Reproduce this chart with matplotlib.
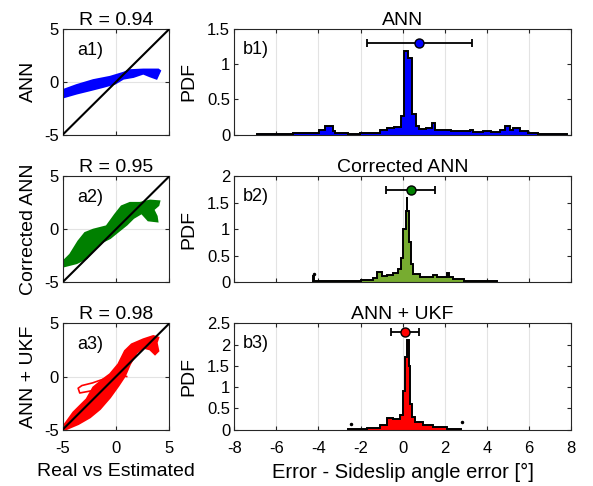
import numpy as np
import matplotlib
matplotlib.use("Agg")
import matplotlib.pyplot as plt

plt.rcParams['font.family'] = ['Liberation Sans', 'DejaVu Sans']
plt.rcParams['axes.unicode_minus'] = False

# ---- data ----
methods = ['ANN', 'Corrected ANN', 'ANN + UKF']
r_values = [0.94, 0.95, 0.98]
line_colors = ['#0000ff', '#008000', '#ff0000']
hist_colors = ['#0000ff', '#77ac30', '#ff0000']
marker_colors = ['#0000ff', '#008000', '#ff0000']

# real vs estimated clouds (outline traced along the band)
a1_x = [-5, -3.69, -2.13, -0.56, 0.69, 1.31, 2.56, 3.97, 4.13, 3.8, 3.19, 2.56, 1.63, 0.69, -0.09, -1.19, -2.44, -3.69, -5]
a1_y = [-0.79, -0.31, 0.16, 0.47, 0.85, 1.1, 1.16, 1.16, 1.04, 0.31, 0.53, 0.79, 0.47, 0.31, -0.16, -0.47, -0.79, -1.1, -1.48]

a2_x = [-5, -4.3, -3.53, -2.9, -2.13, -0.88, -0.09, 0.53, 1.31, 2.25, 3.19, 4.06, 3.97, 3.5, 3.81, 3.88,
        3.03, 2.41, 1.63, 1.0, 0.22, -0.56, -1.5, -2.13, -2.75, -3.69, -4.94]
a2_y = [-3.1, -2.4, -1.15, -0.36, -0.05, 0.27, 1.37, 2.16, 2.48, 2.48, 2.7, 2.63, 2.26, 1.85, 1.22, 0.74,
        0.84, 1.53, 1.06, 0.43, -0.2, -0.84, -1.31, -1.94, -2.73, -3.2, -3.52]
a2_loop_x = [-4.2, -3.6, -3.0, -2.7, -3.3, -4.0, -4.6]
a2_loop_y = [-2.6, -1.8, -1.2, -1.5, -2.3, -2.9, -3.0]

a3_x = [-5, -4, -2.75, -2.13, -1.19, -0.56, 0.22, 0.84, 1.47, 2.56, 3.5, 3.97, 3.81, 3.97, 3.66, 3.19,
        2.56, 1.94, 1.31, 0.84, 0.22, -0.56, -1.5, -2.44, -3.53, -4.63, -5]
a3_y = [-4.78, -3.38, -2.13, -1.03, -0.25, 0.22, 1.16, 2.41, 3.03, 3.5, 3.81, 3.66, 3.19, 2.41, 2.1, 2.56,
        2.72, 2.25, 1.16, 0.06, -0.88, -1.97, -3.06, -3.84, -4.47, -4.94, -5]
a3_loop_x = [-1.2, -2.2, -3.2, -3.55, -3.4, -2.6, -1.6]
a3_loop_y = [-0.25, -0.6, -0.85, -1.1, -1.55, -1.4, -1.2]
a3_hook_x = [-0.3, 0.3, 0.8, 1.0]
a3_hook_y = [0.1, 0.05, 0.05, 0.0]

# error histograms (PDF)
b1_edges = [-6.9, -6.3, -5.8, -5.2, -4.6, -4.25, -3.96, -3.69, -3.32, -3.21, -2.6, -2.02, -1.71, -1.4, -1.07,
            -0.76, -0.4, -0.09, 0.05, 0.24, 0.43, 0.62, 0.76, 1.1, 1.38, 1.56, 1.78, 2.3, 2.7, 3.2, 3.36,
            3.8, 4.2, 4.63, 4.87, 5.1, 5.26, 5.58, 5.98, 6.45, 7.0, 7.64, 7.8]
b1_pdf = [0.01, 0.015, 0.012, 0.018, 0.025, 0.03, 0.06, 0.13, 0.05, 0.02, 0.015, 0.025, 0.03, 0.025,
          0.06, 0.09, 0.11, 0.27, 1.19, 1.085, 0.29, 0.12, 0.08, 0.09, 0.16, 0.07, 0.06, 0.05, 0.055,
          0.07, 0.045, 0.055, 0.04, 0.06, 0.13, 0.07, 0.09, 0.05, 0.03, 0.015, 0.01, 0.005]

b2_edges = [-4.26, -4.22, -3.0, -2.0, -1.39, -1.23, -1.0, -0.76, -0.44, -0.2, -0.09, 0.0, 0.15, 0.2, 0.22,
            0.29, 0.38, 0.5, 0.83, 1.1, 1.46, 1.62, 2.1, 2.2, 2.4, 2.9, 3.6, 4.47]
b2_pdf = [0.12, 0.012, 0.02, 0.035, 0.07, 0.2, 0.11, 0.13, 0.17, 0.25, 0.45, 1.0, 1.35, 1.6, 1.35,
          0.75, 0.35, 0.15, 0.1, 0.09, 0.14, 0.1, 0.18, 0.1, 0.06, 0.03, 0.012]

b3_edges = [-2.58, -2.1, -1.71, -1.07, -0.76, -0.44, -0.12, 0.0, 0.11, 0.19, 0.29, 0.35, 0.43, 0.59, 0.98,
            1.46, 2.1, 2.5, 2.76]
b3_pdf = [0.015, 0.025, 0.05, 0.1, 0.27, 0.25, 0.35, 0.9, 1.7, 2.1, 1.5, 0.6, 0.3, 0.18, 0.12, 0.06, 0.025, 0.015]

# isolated points at the ends of the histograms
b2_dots_x, b2_dots_y = [-4.21], [0.145]
b3_dots_x, b3_dots_y = [-2.47, 2.82], [0.14, 0.17]

err_mean = [0.8, 0.38, 0.12]
err_std = [2.5, 1.17, 0.67]
err_level = [1.3, 1.75, 2.3]

ylims = [1.5, 2.0, 2.5]
yticks = [[0, 0.5, 1, 1.5], [0, 0.5, 1, 1.5, 2], [0, 0.5, 1, 1.5, 2, 2.5]]

clouds = [(a1_x, a1_y), (a2_x, a2_y), (a3_x, a3_y)]
hists = [(b1_edges, b1_pdf), (b2_edges, b2_pdf), (b3_edges, b3_pdf)]
dots = [([], []), (b2_dots_x, b2_dots_y), (b3_dots_x, b3_dots_y)]


def fmt(v):
    return ('%g' % v)


fig = plt.figure(figsize=(5.93, 4.86), dpi=100)
rows = [(0.7228, 0.2175), (0.4195, 0.2178), (0.1160, 0.2185)]
axcol = '#262626'

for i in range(3):
    bottom, height = rows[i]
    # ---- left: real vs estimated ----
    ax = fig.add_axes([0.1057, bottom, 0.1798, height])
    cx, cy = clouds[i]
    ax.fill(cx, cy, color=line_colors[i], lw=1.5, ec=line_colors[i], zorder=2)
    if i == 1:
        ax.plot(a2_loop_x, a2_loop_y, color=line_colors[i], lw=1.2, zorder=2)
    if i == 2:
        ax.plot(a3_loop_x, a3_loop_y, color=line_colors[i], lw=1.2, zorder=2)
        ax.plot(a3_hook_x, a3_hook_y, color=line_colors[i], lw=1.2, zorder=2)
    ax.plot([-5, 5], [-5, 5], color='k', lw=1.5, zorder=3)
    ax.set_xlim(-5, 5)
    ax.set_ylim(-5, 5)
    ax.set_xticks([-5, 0, 5])
    ax.set_yticks([-5, 0, 5])
    ax.set_yticklabels(['-5', '0', '5'])
    if i == 2:
        ax.set_xticklabels(['-5', '0', '5'])
        ax.set_xlabel('Real vs Estimated', fontsize=14, labelpad=5)
    else:
        ax.set_xticklabels([])
    ax.grid(True, color='#e3e3e3', lw=0.8)
    ax.set_axisbelow(True)
    ax.set_title('R = %.2f' % r_values[i], fontsize=14, pad=3)
    ax.set_ylabel(methods[i], fontsize=14, labelpad=5)
    ax.text(0.134, 0.80, 'a%d)' % (i + 1), transform=ax.transAxes, fontsize=13, va='center')
    ax.tick_params(direction='in', top=True, right=True, labelsize=12, length=3, color=axcol, pad=3)
    ax.tick_params(axis='x', pad=8)
    for s in ax.spines.values():
        s.set_color(axcol)

    # ---- right: error PDF ----
    bx = fig.add_axes([0.3951, bottom, 0.5678, height])
    edges, pdf = hists[i]
    bx.stairs(pdf, edges, fill=True, color=hist_colors[i], zorder=2)
    bx.stairs(pdf, edges, color='k', lw=1.4, zorder=3)
    dx, dy = dots[i]
    if dx:
        bx.plot(dx, dy, 'k.', ms=3, zorder=3)
    bx.errorbar(err_mean[i], err_level[i], xerr=err_std[i], fmt='o', color='k', lw=1.3,
                capsize=3, capthick=1.3, mfc=marker_colors[i], mec='k', ms=6.5, zorder=4)
    bx.set_xlim(-8, 8)
    bx.set_ylim(0, ylims[i])
    bx.set_xticks(np.arange(-8, 9, 2))
    bx.set_yticks(yticks[i])
    bx.set_yticklabels([fmt(v) for v in yticks[i]])
    if i == 2:
        bx.set_xticklabels([fmt(v) for v in np.arange(-8, 9, 2)])
        bx.set_xlabel('Error - Sideslip angle error [°]', fontsize=14.5, labelpad=5)
    else:
        bx.set_xticklabels([])
    bx.grid(True, axis='x', color='#e3e3e3', lw=0.8)
    bx.set_axisbelow(True)
    bx.set_title(methods[i], fontsize=14, pad=3)
    bx.set_ylabel('PDF', fontsize=14, labelpad=7)
    bx.text(0.025, 0.81, 'b%d)' % (i + 1), transform=bx.transAxes, fontsize=13, va='center')
    bx.tick_params(direction='in', top=True, right=True, labelsize=12, length=3, color=axcol, pad=3)
    bx.tick_params(axis='x', pad=8)
    for s in bx.spines.values():
        s.set_color(axcol)

fig.savefig('out.png', dpi=100)
